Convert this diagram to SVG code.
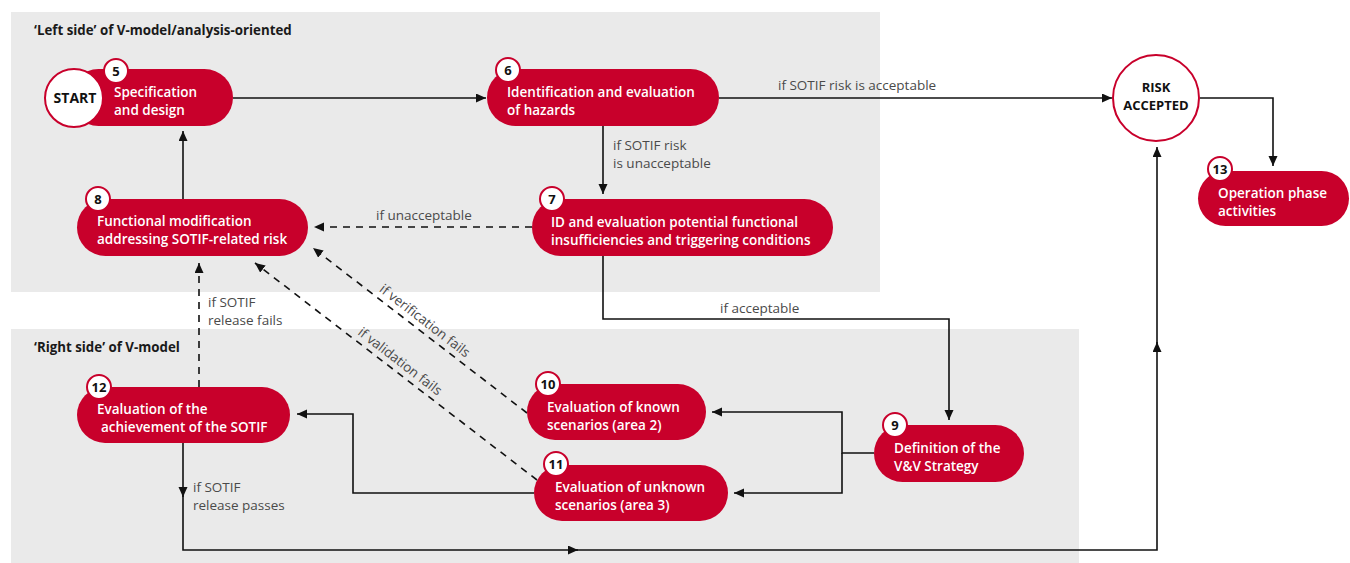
<svg xmlns="http://www.w3.org/2000/svg" width="1350" height="563" viewBox="0 0 1350 563">
<style>
.panel{fill:#eaeaea}
.title{font-family:"Open Sans","Noto Sans",sans-serif;font-weight:700;font-size:13.3px;fill:#1a1a1a}
.pill{fill:#c8002b}
.nt{font-family:"Open Sans","Noto Sans",sans-serif;font-weight:600;font-size:13.5px;fill:#ffffff}
.badge{fill:#ffffff;stroke:#c8002b;stroke-width:2}
.bt{font-family:"Open Sans","Noto Sans",sans-serif;font-weight:700;font-size:13px;fill:#111;text-anchor:middle}
.circ{fill:#ffffff;stroke:#c8002b;stroke-width:2}
.ct{font-family:"Open Sans","Noto Sans",sans-serif;font-weight:700;font-size:13px;fill:#111;text-anchor:middle}
.lbl{font-family:"Open Sans","Noto Sans",sans-serif;font-size:13.5px;fill:#4a4a4a}
.ln{fill:none;stroke:#111;stroke-width:1.6}
.dash{fill:none;stroke:#111;stroke-width:1.6;stroke-dasharray:7 6}
</style>
<defs>
<marker id="ah" markerUnits="userSpaceOnUse" markerWidth="11" markerHeight="10" refX="10" refY="4.5" orient="auto">
<path d="M0,0 L10,4.5 L0,9 Z" fill="#111"/>
</marker>
</defs>

<rect class="panel" x="11" y="12" width="869" height="280"/>
<rect class="panel" x="11" y="329" width="1068" height="234"/>
<text class="title" x="34" y="35">‘Left side’ of V-model/analysis-oriented</text>
<text class="title" x="34" y="352">‘Right side’ of V-model</text>

<g id="connectors">
<path class="ln" d="M233,98 H486" marker-end="url(#ah)"/>
<path class="ln" d="M719,98 H1112" marker-end="url(#ah)"/>
<path class="ln" d="M1200,98 H1273 V166" marker-end="url(#ah)"/>
<path class="ln" d="M603,126 V194" marker-end="url(#ah)"/>
<path class="ln" d="M183,199 V131" marker-end="url(#ah)"/>
<path class="dash" d="M532,227 H314" marker-end="url(#ah)"/>
<path class="ln" d="M603,256 V319 H949 V420" marker-end="url(#ah)"/>
<path class="ln" d="M874,453 H842 V412 H712" marker-end="url(#ah)"/>
<path class="ln" d="M842,453 V493 H734" marker-end="url(#ah)"/>
<path class="ln" d="M534,493 H353 V414 H297" marker-end="url(#ah)"/>
<path class="dash" d="M199,387 V263" marker-end="url(#ah)"/>
<path class="dash" d="M527,413 L313,248" marker-end="url(#ah)"/>
<path class="dash" d="M537,480 L255,263" marker-end="url(#ah)"/>
<path class="ln" d="M183,443 V497" marker-end="url(#ah)"/>
<path class="ln" d="M183,490 V550 H578" marker-end="url(#ah)"/>
<path class="ln" d="M570,550 H1157 V342" marker-end="url(#ah)"/>
<path class="ln" d="M1157,350 V147" marker-end="url(#ah)"/>
<text class="lbl" x="778" y="90">if SOTIF risk is acceptable</text>
<text class="lbl" x="613" y="150">if SOTIF risk</text>
<text class="lbl" x="613" y="168">is unacceptable</text>
<text class="lbl" x="376" y="220">if unacceptable</text>
<text class="lbl" x="720" y="313">if acceptable</text>
<text class="lbl" x="208" y="307">if SOTIF</text>
<text class="lbl" x="208" y="325">release fails</text>
<text class="lbl" x="193" y="492">if SOTIF</text>
<text class="lbl" x="193" y="510">release passes</text>
<text class="lbl" transform="translate(313,248) rotate(37.6)" x="78" y="-6">if verification fails</text>
<text class="lbl" transform="translate(255,263) rotate(37.6)" x="124" y="-6">if validation fails</text>
</g>

<g id="node5">
<rect class="pill" x="70" y="69" width="163" height="57" rx="28.5"/>
<circle class="circ" cx="74" cy="98" r="29"/>
<text class="ct" x="75" y="103" style="font-size:14px">START</text>
<circle class="badge" cx="116" cy="71" r="12"/>
<text class="bt" x="116" y="76">5</text>
<text class="nt" x="114" y="97">Specification</text>
<text class="nt" x="114" y="115">and design</text>
</g>

<g id="node6">
<rect class="pill" x="487" y="69" width="232" height="57" rx="28.5"/>
<circle class="badge" cx="508" cy="70" r="12"/>
<text class="bt" x="508" y="75">6</text>
<text class="nt" x="507" y="97">Identification and evaluation</text>
<text class="nt" x="507" y="115">of hazards</text>
</g>

<g id="risk">
<circle class="circ" cx="1156" cy="98" r="43"/>
<text class="ct" x="1156" y="92">RISK</text>
<text class="ct" x="1156" y="110">ACCEPTED</text>
</g>

<g id="node13">
<rect class="pill" x="1198" y="171" width="151" height="55" rx="27.5"/>
<circle class="badge" cx="1220" cy="169" r="12"/>
<text class="bt" x="1220" y="174">13</text>
<text class="nt" x="1218" y="198">Operation phase</text>
<text class="nt" x="1218" y="216">activities</text>
</g>

<g id="node7">
<rect class="pill" x="532" y="199" width="301" height="57" rx="28.5"/>
<circle class="badge" cx="552" cy="199" r="12"/>
<text class="bt" x="552" y="204">7</text>
<text class="nt" x="551" y="227">ID and evaluation potential functional</text>
<text class="nt" x="551" y="245">insufficiencies and triggering conditions</text>
</g>

<g id="node8">
<rect class="pill" x="77" y="199" width="231" height="57" rx="28.5"/>
<circle class="badge" cx="98" cy="199" r="12"/>
<text class="bt" x="98" y="204">8</text>
<text class="nt" x="97" y="226">Functional modification</text>
<text class="nt" x="97" y="244">addressing SOTIF-related risk</text>
</g>

<g id="node12">
<rect class="pill" x="77" y="387" width="213" height="56" rx="28"/>
<circle class="badge" cx="99" cy="387" r="12"/>
<text class="bt" x="99" y="392">12</text>
<text class="nt" x="97" y="414">Evaluation of the</text>
<text class="nt" x="101" y="432">achievement of the SOTIF</text>
</g>

<g id="node10">
<rect class="pill" x="527" y="384" width="179" height="56" rx="28"/>
<circle class="badge" cx="548" cy="384" r="12"/>
<text class="bt" x="548" y="389">10</text>
<text class="nt" x="547" y="412">Evaluation of known</text>
<text class="nt" x="547" y="430">scenarios (area 2)</text>
</g>

<g id="node11">
<rect class="pill" x="534" y="465" width="194" height="56" rx="28"/>
<circle class="badge" cx="556" cy="464" r="12"/>
<text class="bt" x="556" y="469">11</text>
<text class="nt" x="555" y="492">Evaluation of unknown</text>
<text class="nt" x="555" y="510">scenarios (area 3)</text>
</g>

<g id="node9">
<rect class="pill" x="874" y="425" width="150" height="57" rx="28.5"/>
<circle class="badge" cx="895" cy="425" r="12"/>
<text class="bt" x="895" y="430">9</text>
<text class="nt" x="894" y="453">Definition of the</text>
<text class="nt" x="894" y="471">V&amp;V Strategy</text>
</g>
</svg>
